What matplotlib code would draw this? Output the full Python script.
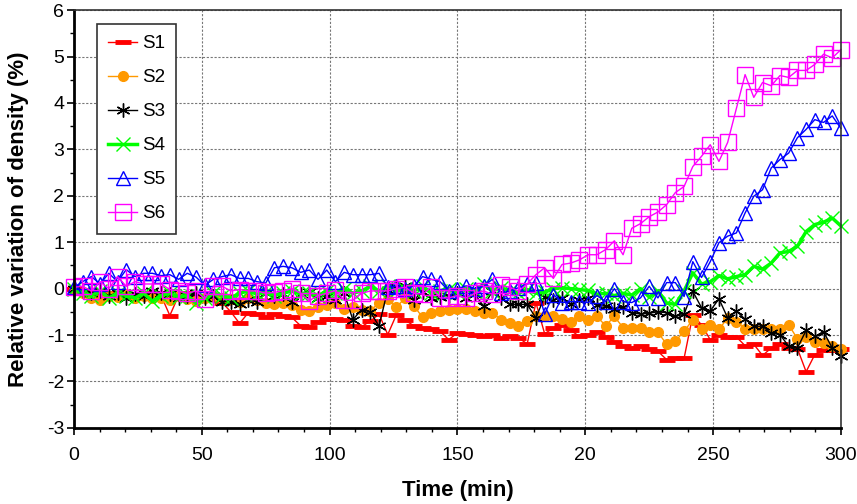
import numpy as np
import matplotlib
matplotlib.use('Agg')
import matplotlib.pyplot as plt
from matplotlib.ticker import MultipleLocator

plt.rcParams['font.family'] = ['Liberation Sans', 'DejaVu Sans']
plt.rcParams['axes.unicode_minus'] = False

# sampling times (min), one reading every ~3.4 min
t = np.linspace(0, 300, 89)

s1 = [0, -0.05, -0.1, -0.1, -0.15, -0.1, -0.15, -0.2, -0.15, -0.1,
      -0.15, -0.58, -0.15, -0.1, -0.15, -0.2, -0.15, -0.3, -0.5, -0.75,
      -0.52, -0.55, -0.62, -0.55, -0.6, -0.62, -0.8, -0.82, -0.72, -0.65,
      -0.65, -0.68, -0.8, -0.82, -0.7, -0.55, -0.99, -0.56, -0.68, -0.8,
      -0.85, -0.88, -0.92, -1.1, -0.95, -0.98, -1.0, -1.02, -1.0, -1.06,
      -1.03, -1.06, -1.19, -0.3, -0.97, -0.85, -0.78, -0.9, -1.03, -1.0,
      -0.93, -1.05, -1.14, -1.23, -1.27, -1.23, -1.31, -1.35, -1.53, -1.49,
      -1.5, -0.57, -0.78, -1.1, -0.99, -1.04, -1.04, -1.23, -1.2, -1.44,
      -1.28, -1.19, -1.28, -1.29, -1.79, -1.42, -1.33, -1.33, -1.3]

s2 = [0, -0.1, -0.2, -0.25, -0.15, -0.18, -0.12, -0.2, -0.15, -0.2,
      -0.2, -0.25, -0.15, -0.22, -0.27, -0.2, -0.15, -0.2, -0.22, -0.28,
      -0.2, -0.25, -0.3, -0.33, -0.3, -0.35, -0.45, -0.48, -0.4, -0.35,
      -0.3, -0.44, -0.4, -0.45, -0.48, -0.3, -0.22, -0.4, -0.2, -0.37,
      -0.62, -0.52, -0.48, -0.46, -0.44, -0.44, -0.48, -0.52, -0.52, -0.67,
      -0.75, -0.81, -0.7, -0.6, -0.58, -0.6, -0.65, -0.72, -0.6, -0.67,
      -0.6, -0.8, -0.6, -0.84, -0.84, -0.84, -0.94, -0.94, -1.2, -1.13,
      -0.92, -0.67, -0.86, -0.79, -0.87, -0.64, -0.72, -0.86, -0.86, -0.87,
      -0.87, -0.86, -0.78, -1.08, -1.04, -1.14, -1.17, -1.24, -1.3]

s3 = [0, -0.05, -0.1, -0.05, -0.15, -0.1, -0.2, -0.12, -0.15, -0.05,
      -0.1, -0.12, -0.2, -0.15, -0.1, -0.2, -0.15, -0.28, -0.28, -0.34,
      -0.25, -0.28, -0.1, -0.15, -0.12, -0.28, -0.12, -0.07, -0.2, -0.15,
      -0.25, -0.1, -0.67, -0.45, -0.5, -0.81, -0.02, 0.03, 0.06, -0.24,
      -0.07, -0.2, -0.17, -0.15, -0.1, -0.2, -0.12, -0.38, -0.06, -0.2,
      -0.34, -0.34, -0.34, -0.63, -0.17, -0.24, -0.2, -0.34, -0.24, -0.2,
      -0.36, -0.38, -0.43, -0.4, -0.52, -0.55, -0.53, -0.5, -0.52, -0.6,
      -0.55, -0.06, -0.41, -0.48, -0.22, -0.63, -0.48, -0.66, -0.81, -0.81,
      -0.96, -0.99, -1.24, -1.28, -0.9, -1.03, -0.93, -1.28, -1.46]

s4 = [0, -0.1, -0.15, -0.05, -0.2, -0.1, -0.15, -0.2, -0.1, -0.27,
      -0.15, -0.1, -0.18, -0.15, -0.3, -0.2, -0.1, -0.15, -0.2, -0.1,
      -0.05, -0.12, -0.08, -0.15, -0.1, -0.05, -0.12, -0.1, -0.15, -0.05,
      -0.1, 0.0, -0.1, -0.05, 0.05, -0.05, 0.05, -0.05, 0.0, -0.05,
      0.05, -0.1, -0.05, 0.0, -0.08, 0.0, -0.05, 0.1, -0.05, 0.02,
      -0.05, -0.1, -0.02, -0.1, -0.08, 0.0, 0.02, 0.0, -0.02, -0.04,
      -0.12, -0.1, -0.15, -0.1, -0.14, 0.0, -0.18, -0.05, -0.31, -0.34,
      -0.05, 0.34, 0.1, 0.15, 0.28, 0.21, 0.26, 0.3, 0.48, 0.42,
      0.55, 0.77, 0.8, 0.91, 1.23, 1.38, 1.43, 1.52, 1.35]

s5 = [0.03, 0.15, 0.26, 0.1, 0.33, 0.15, 0.41, 0.26, 0.33, 0.33,
      0.28, 0.3, 0.2, 0.33, 0.25, 0.07, 0.2, 0.26, 0.3, 0.22,
      0.22, 0.15, 0.12, 0.45, 0.48, 0.45, 0.35, 0.4, 0.2, 0.4,
      0.15, 0.35, 0.3, 0.3, 0.3, 0.33, 0.03, 0.05, 0.0, 0.05,
      0.26, 0.2, 0.15, -0.05, 0.0, 0.06, 0.0, 0.05, 0.2, -0.1,
      -0.05, 0.02, 0.1, 0.13, -0.55, -0.13, -0.3, -0.28, -0.28, -0.3,
      -0.15, -0.28, 0.0, -0.28, -0.3, -0.2, 0.05, -0.2, 0.13, 0.13,
      -0.17, 0.58, 0.24, 0.58, 0.99, 1.13, 1.2, 1.63, 1.99, 2.13,
      2.6, 2.78, 2.92, 3.25, 3.43, 3.64, 3.58, 3.72, 3.45]

s6 = [0.03, 0.05, -0.05, 0.15, 0.0, 0.26, 0.05, 0.15, 0.1, 0.1,
      0.1, -0.02, -0.05, -0.1, -0.05, -0.22, 0.05, 0.05, -0.05, -0.02,
      -0.05, -0.05, -0.1, -0.08, -0.05, 0.0, -0.1, -0.26, -0.15, -0.1,
      -0.04, -0.25, -0.25, -0.1, -0.05, -0.05, -0.05, 0.0, 0.03, -0.1,
      -0.12, 0.03, -0.2, -0.2, -0.15, -0.2, -0.1, -0.05, -0.12, 0.07,
      0.03, -0.05, 0.1, 0.3, 0.45, 0.22, 0.52, 0.55, 0.62, 0.73,
      0.73, 0.84, 1.03, 0.73, 1.3, 1.4, 1.55, 1.65, 1.81, 2.07,
      2.2, 2.63, 2.85, 3.1, 2.74, 3.15, 3.88, 4.61, 4.12, 4.44,
      4.37, 4.59, 4.55, 4.7, 4.7, 4.83, 5.05, 4.97, 5.15]

x_ticks = [0, 50, 100, 150, 200, 250, 300]
x_tick_labels = ['0', '50', '100', '150', '20', '250', '300']

fig = plt.figure(figsize=(8.57, 5.04), dpi=100)
ax = fig.add_axes([0.0863, 0.151, 0.8950, 0.829])

ax.grid(True, which='major', color='#777777', linestyle=(0, (2, 1.5)), linewidth=0.8)
ax.set_axisbelow(True)

ax.plot(t, s1, color='#ff0000', lw=1, marker='_', ms=11, mew=3.5, label='S1', clip_on=False)
ax.plot(t, s2, color='#ff9900', lw=1, marker='o', ms=7, mec='#ff9900', label='S2', clip_on=False)
ax.plot(t, s3, color='#000000', lw=1, marker=(6, 2, 0), ms=10, mew=1, label='S3', clip_on=False)
ax.plot(t, s4, color='#00ff00', lw=2.5, marker='x', ms=10, mew=1, label='S4', clip_on=False)
ax.plot(t, s5, color='#0000ff', lw=1, marker='^', ms=10, mfc='none', mew=1, label='S5', clip_on=False)
ax.plot(t, s6, color='#ff00ff', lw=1, marker='s', ms=11, mfc='none', mew=1, label='S6', clip_on=False)

ax.set_xlim(0, 300)
ax.set_ylim(-3, 6)
ax.set_xticks(x_ticks)
ax.set_xticklabels(x_tick_labels)
ax.xaxis.set_minor_locator(MultipleLocator(10))
ax.yaxis.set_major_locator(MultipleLocator(1))
ax.yaxis.set_minor_locator(MultipleLocator(0.5))
ax.tick_params(which='major', direction='out', length=5, width=1.2, labelsize=14)
ax.tick_params(which='minor', direction='out', length=3, width=1)
ax.tick_params(axis='x', which='major', pad=9)
ax.tick_params(axis='y', which='major', pad=2)

for side in ['left', 'bottom']:
  ax.spines[side].set_linewidth(2)
for side in ['top', 'right']:
  ax.spines[side].set_linewidth(1.2)
  ax.spines[side].set_color('#333333')

ax.set_xlabel('Time (min)', fontsize=16, fontweight='bold', labelpad=11)
ax.set_ylabel('Relative variation of density (%)', fontsize=16, fontweight='bold', labelpad=13)

leg = ax.legend(loc='upper left', bbox_to_anchor=(0.030, 0.9665), borderaxespad=0,
                fontsize=13.5, frameon=True, fancybox=False, framealpha=1,
                edgecolor='#333333', handlelength=1.55, handletextpad=0.25,
                labelspacing=0.9, borderpad=0.6)
leg.get_frame().set_linewidth(1.2)

fig.savefig('out.png', dpi=100)
